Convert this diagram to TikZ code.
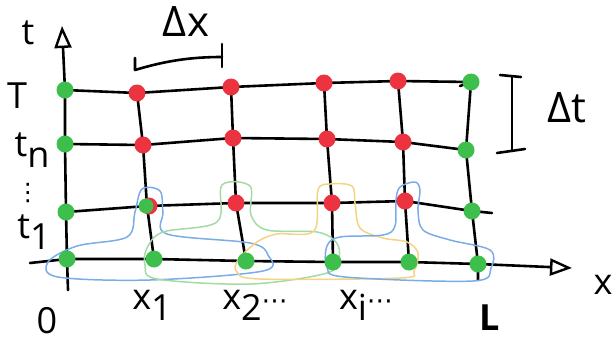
\documentclass[tikz,border=0pt]{standalone}
\usepackage{fontspec}
\setsansfont{Open Sans}
\newfontfamily\dotsfont{DejaVu Sans}
\usepackage{xcolor}
\definecolor{ptgreen}{RGB}{62,190,76}
\definecolor{ptred}{RGB}{236,52,64}
\definecolor{lpblue}{RGB}{122,172,232}
\definecolor{lpgreen}{RGB}{164,218,164}
\definecolor{lpyellow}{RGB}{244,212,130}
\usepackage{tikz}
\usetikzlibrary{arrows.meta}
\newcommand{\lowidx}[1]{\raisebox{-0.3em}{#1}}
\newcommand{\hdots}{{\dotsfont\fontsize{26}{28}\selectfont ⋯}}
\newcommand{\gdot}[1]{\fill[ptgreen] (#1) circle (8.5pt);}
\newcommand{\rdot}[1]{\fill[ptred] (#1) circle (8.5pt);}
\tikzset{
  pen/.style={line width=2.6pt,line cap=round,line join=round},
  stencil/.style={line width=1.5pt,line join=round},
  lbl/.style={font=\sffamily\fontsize{36}{38}\selectfont,inner sep=0pt},
  biglbl/.style={lbl,font=\sffamily\fontsize{42}{44}\selectfont},
  axtip/.style={-{Triangle[open,length=22pt,width=17pt,line width=2.4pt]}}
}

\begin{document}
\begin{tikzpicture}[x=1pt,y=-1pt]
\useasboundingbox (0,0) rectangle (613,341);
% ---- punkty siatki: wiersze r0 (t0) .. r3 (T), kolumny c0 (0) .. c5 (L) ----
\foreach \x/\y [count=\c from 0] in {67/259,154/259,246/261,333/262,409/262,478/264}
  \coordinate (r0c\c) at (\x,\y);
\foreach \x/\y [count=\c from 0] in {66/212,147/206,236/203,332/203,405/201,472/211}
  \coordinate (r1c\c) at (\x,\y);
\foreach \x/\y [count=\c from 0] in {65/144,143/145,233/138,327/139,403/142,466/150}
  \coordinate (r2c\c) at (\x,\y);
\foreach \x/\y [count=\c from 0] in {65/90,137/93,231/87,324/83,398/81,471/82}
  \coordinate (r3c\c) at (\x,\y);
% osie
\coordinate (xstart) at (30,263);
\coordinate (xend) at (572,268);
\coordinate (tstart) at (68,290);
\coordinate (tend) at (62,26);
\draw[pen,axtip] (xstart) -- (r0c0) -- (r0c1) -- (r0c2) -- (r0c3) -- (r0c4) -- (r0c5) -- (xend);
\draw[pen,axtip] (tstart) -- (r0c0) -- (r1c0) -- (r2c0) -- (r3c0) -- (tend);
% linie poziome
\draw[pen] (r1c0) -- (r1c1) -- (r1c2) -- (r1c3) -- (r1c4) -- (r1c5) -- (492,213);
\draw[pen] (r2c0) -- (r2c1) -- (r2c2) -- (r2c3) -- (r2c4) -- (r2c5);
\draw[pen] (r3c0) -- (r3c1) -- (r3c2) -- (r3c3) -- (r3c4) -- (r3c5) -- (460,86);
% linie pionowe
\foreach \c in {1,...,4}
  \draw[pen] (r3c\c) -- (r2c\c) -- (r1c\c) -- (r0c\c);
\draw[pen] (r3c5) -- (r2c5) -- (r1c5) -- (r0c5) -- (478,280);
% ---- obwiednie szablonow ----
\draw[stencil,lpblue] plot[smooth cycle,tension=0.55] coordinates {(48,262) (58,277) (150,280) (263,271) (268,255) (250,243) (167,234) (163,212) (160,191) (142,189) (135,212) (127,237) (77,246)};
\draw[stencil,lpgreen] plot[smooth cycle,tension=0.55] coordinates {(147,248) (145,265) (157,279) (250,284) (327,273) (339,257) (336,242) (317,232) (267,230) (251,215) (250,186) (222,185) (217,222) (163,232)};
\draw[stencil,lpyellow] plot[smooth cycle,tension=0.55] coordinates {(238,260) (237,272) (260,279) (400,278) (414,271) (418,253) (407,242) (383,238) (360,228) (355,203) (352,186) (330,184) (318,190) (314,231) (277,234) (257,242)};
\draw[stencil,lpblue] plot[smooth cycle,tension=0.55] coordinates {(327,246) (327,267) (345,277) (473,281) (491,268) (490,250) (450,240) (423,230) (418,210) (420,190) (415,182) (400,187) (396,200) (395,226) (383,235) (340,237)};
% ---- punkty ----
\foreach \c in {0,...,5} {\gdot{r0c\c}}
\foreach \r in {1,2,3} {\gdot{r\r c0} \gdot{r\r c5}}
\foreach \r/\c in {3/1,3/2,3/3,3/4,2/1,2/2,2/3,2/4,1/2,1/3,1/4} {\rdot{r\r c\c}}
\fill[ptred] ([xshift=2pt]r1c1) circle (8.5pt);
\fill[ptgreen] ([xshift=-1pt]r1c1) circle (7.5pt);
% ---- wymiary ----
\coordinate (dxa) at (135,70);
\coordinate (dxb) at (222,57);
\draw[pen] (135,58) -- (dxa) .. controls (165,61) and (190,57) .. (dxb);
\draw[pen] (222,44) -- (222,67);
\coordinate (dta) at (512,77);
\coordinate (dtb) at (512,151);
\draw[pen] (dta) -- (dtb);
\draw[pen] (500,75) -- (521,77);
\draw[pen] (497,153) -- (525,149);
% ---- opisy ----
\node[lbl] (tlab) at (28,33) {t};
\node[biglbl] (dxlab) at (186,22) {Δx};
\node[biglbl] (dtlab) at (567,108) {Δt};
\node[lbl] (Tlab) at (17,96) {T};
\node[lbl] (tnlab) at (32,150) {t\lowidx{n}};
\node[lbl,font=\dotsfont\fontsize{24}{26}\selectfont] (vdlab) at (28,193) {⋮};
\node[lbl] (t1lab) at (34,232) {t\lowidx{1}};
\node[lbl] (zlab) at (47,321) {0};
\node[lbl] (x1lab) at (152,305) {x\lowidx{1}};
\node[lbl] (x2lab) at (255,305) {x\lowidx{2}\hdots};
\node[lbl] (xilab) at (366,305) {x\lowidx{i}\hdots};
\node[lbl,font=\sffamily\bfseries\fontsize{36}{38}\selectfont] (Llab) at (490,318) {L};
\node[lbl] (xlab) at (603,285) {x};
\end{tikzpicture}
\end{document}
